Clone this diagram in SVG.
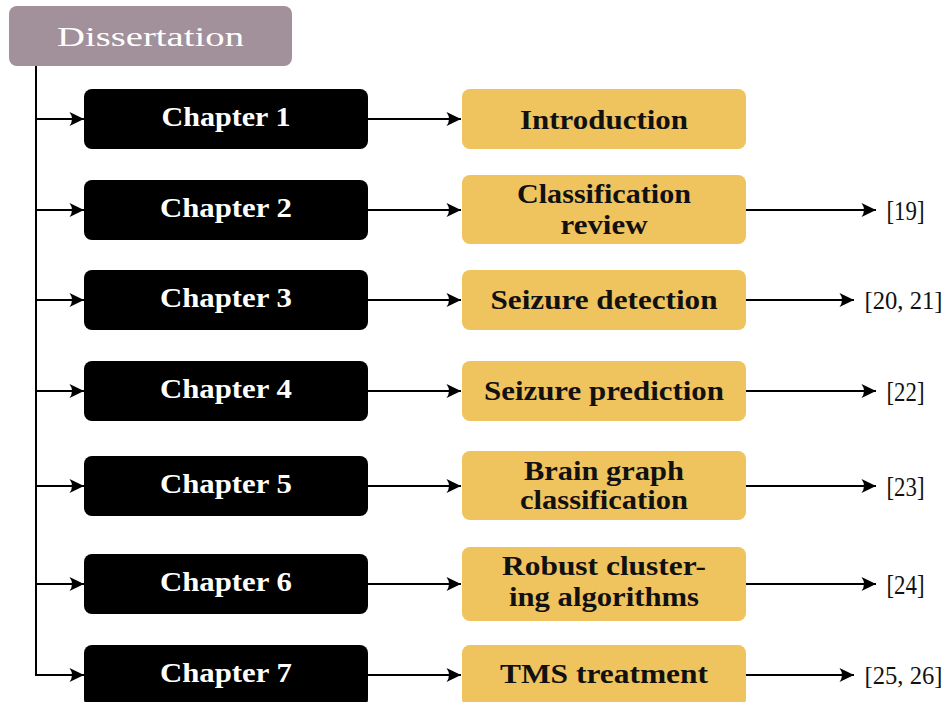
<svg xmlns="http://www.w3.org/2000/svg" width="949" height="702" viewBox="0 0 949 702">
<defs>
<marker id="ah" markerUnits="userSpaceOnUse" markerWidth="18" markerHeight="16" refX="15" refY="8" orient="auto">
<path d="M15,8 L0.5,1 Q5.5,8 0.5,15 Z" fill="#000"/>
</marker>
<style>
.dis{fill:#a2909b}
.ch{fill:#000}
.or{fill:#efc35e}
.t{font-family:"Liberation Serif","Times New Roman",serif;font-size:27px;text-anchor:middle}
.w{fill:#fff;font-weight:bold}
.b{fill:#111;font-weight:bold}
.r{fill:#111;font-size:28px}
.r2{fill:#111;font-size:26px}
.ln{stroke:#000;stroke-width:2;fill:none}
.ar{stroke:#000;stroke-width:2;fill:none;marker-end:url(#ah)}
</style>
</defs>
<rect width="949" height="702" fill="#fff"/>
<g id="connectors">
<path class="ln" d="M36,66 V675"/>
<path class="ar" d="M36,119 H84"/>
<path class="ar" d="M36,210 H84"/>
<path class="ar" d="M36,300 H84"/>
<path class="ar" d="M36,391 H84"/>
<path class="ar" d="M36,486 H84"/>
<path class="ar" d="M36,584 H84"/>
<path class="ar" d="M35,675 H84"/>
<path class="ar" d="M368,119 H461"/>
<path class="ar" d="M368,210 H461"/>
<path class="ar" d="M368,300 H461"/>
<path class="ar" d="M368,391 H461"/>
<path class="ar" d="M368,486 H461"/>
<path class="ar" d="M368,584 H461"/>
<path class="ar" d="M368,675 H461"/>
<path class="ar" d="M746,210 H876"/>
<path class="ar" d="M746,300 H854"/>
<path class="ar" d="M746,391 H876"/>
<path class="ar" d="M746,486 H876"/>
<path class="ar" d="M746,584 H876"/>
<path class="ar" d="M746,675 H854"/>
</g>
<g id="dissertation">
<rect class="dis" x="9" y="6" width="283" height="60" rx="8"/>
<text class="t" x="150.5" y="46" fill="#fff" font-size="34" textLength="187" lengthAdjust="spacingAndGlyphs">Dissertation</text>
</g>
<g id="ch1"><rect class="ch" x="84" y="89" width="284" height="60" rx="8"/><text class="t w" x="226" y="126" textLength="129" lengthAdjust="spacingAndGlyphs">Chapter 1</text></g>
<g id="ch2"><rect class="ch" x="84" y="180" width="284" height="60" rx="8"/><text class="t w" x="226" y="217" textLength="132" lengthAdjust="spacingAndGlyphs">Chapter 2</text></g>
<g id="ch3"><rect class="ch" x="84" y="270" width="284" height="60" rx="8"/><text class="t w" x="226" y="307" textLength="132" lengthAdjust="spacingAndGlyphs">Chapter 3</text></g>
<g id="ch4"><rect class="ch" x="84" y="361" width="284" height="60" rx="8"/><text class="t w" x="226" y="398" textLength="132" lengthAdjust="spacingAndGlyphs">Chapter 4</text></g>
<g id="ch5"><rect class="ch" x="84" y="456" width="284" height="60" rx="8"/><text class="t w" x="226" y="493" textLength="132" lengthAdjust="spacingAndGlyphs">Chapter 5</text></g>
<g id="ch6"><rect class="ch" x="84" y="554" width="284" height="60" rx="8"/><text class="t w" x="226" y="591" textLength="132" lengthAdjust="spacingAndGlyphs">Chapter 6</text></g>
<g id="ch7"><rect class="ch" x="84" y="645" width="284" height="62" rx="8"/><text class="t w" x="226" y="682" textLength="132" lengthAdjust="spacingAndGlyphs">Chapter 7</text></g>
<g id="intro"><rect class="or" x="462" y="89" width="284" height="60" rx="8"/><text class="t b" x="604" y="129" textLength="168" lengthAdjust="spacingAndGlyphs">Introduction</text></g>
<g id="review"><rect class="or" x="462" y="175" width="284" height="69" rx="8"/><text class="t b" x="604" y="203" textLength="174" lengthAdjust="spacingAndGlyphs">Classification</text><text class="t b" x="604" y="234" textLength="87" lengthAdjust="spacingAndGlyphs">review</text></g>
<g id="detection"><rect class="or" x="462" y="270" width="284" height="60" rx="8"/><text class="t b" x="604" y="309" textLength="227" lengthAdjust="spacingAndGlyphs">Seizure detection</text></g>
<g id="prediction"><rect class="or" x="462" y="361" width="284" height="60" rx="8"/><text class="t b" x="604" y="400" textLength="240" lengthAdjust="spacingAndGlyphs">Seizure prediction</text></g>
<g id="brain"><rect class="or" x="462" y="451" width="284" height="69" rx="8"/><text class="t b" x="604" y="480" textLength="160" lengthAdjust="spacingAndGlyphs">Brain graph</text><text class="t b" x="604" y="509" textLength="168" lengthAdjust="spacingAndGlyphs">classification</text></g>
<g id="clustering"><rect class="or" x="462" y="547" width="284" height="74" rx="8"/><text class="t b" x="604" y="575" textLength="204" lengthAdjust="spacingAndGlyphs">Robust cluster-</text><text class="t b" x="604" y="606" textLength="190" lengthAdjust="spacingAndGlyphs">ing algorithms</text></g>
<g id="tms"><rect class="or" x="462" y="645" width="284" height="62" rx="8"/><text class="t b" x="604" y="683" textLength="208" lengthAdjust="spacingAndGlyphs">TMS treatment</text></g>
<g id="refs">
<text class="t r" x="905.5" y="220" textLength="38" lengthAdjust="spacingAndGlyphs">[19]</text>
<text class="t r2" x="903.5" y="309" textLength="78" lengthAdjust="spacingAndGlyphs">[20, 21]</text>
<text class="t r" x="905.5" y="401" textLength="38" lengthAdjust="spacingAndGlyphs">[22]</text>
<text class="t r" x="905.5" y="496" textLength="38" lengthAdjust="spacingAndGlyphs">[23]</text>
<text class="t r" x="905.5" y="594" textLength="38" lengthAdjust="spacingAndGlyphs">[24]</text>
<text class="t r2" x="903.5" y="684" textLength="78" lengthAdjust="spacingAndGlyphs">[25, 26]</text>
</g>
</svg>
